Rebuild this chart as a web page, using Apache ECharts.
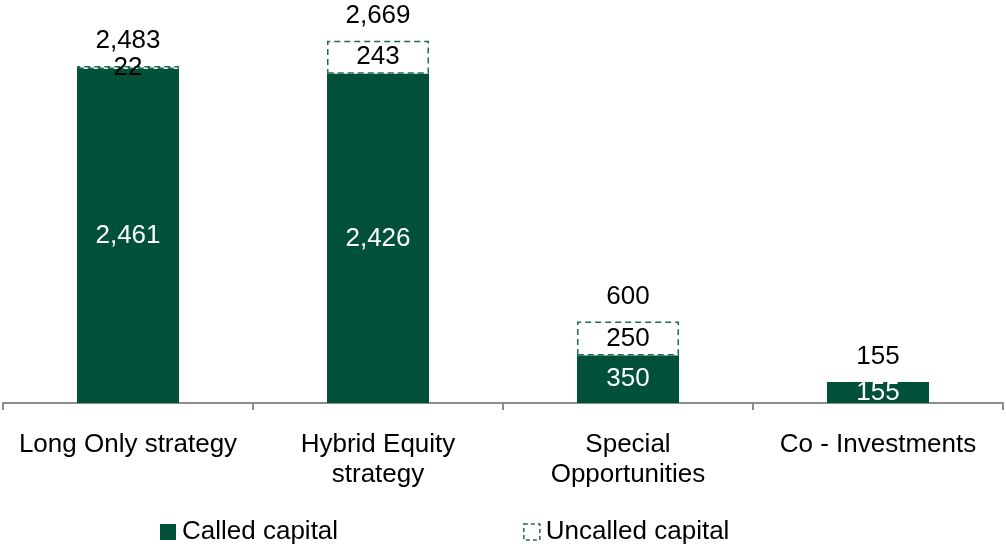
<!DOCTYPE html>
<html>
<head>
<meta charset="utf-8">
<script src="https://cdn.jsdelivr.net/npm/echarts@6/dist/echarts.min.js"></script>
<style>
html,body{margin:0;padding:0;background:#fff;}
#chart{width:1006px;height:546px;}
</style>
</head>
<body>
<div id="chart"></div>
<script>
const categories = ['Long Only strategy', 'Hybrid Equity\nstrategy', 'Special\nOpportunities', 'Co - Investments'];
const called = [2461, 2426, 350, 155];
const uncalled = [22, 243, 250, 0];
const totals = [2483, 2669, 600, 155];

const FONT = "'Liberation Sans', Arial, Helvetica, sans-serif";
const GREEN = '#00503a';
const FS = 26;
const fmt = v => v.toLocaleString('en-US');

const chart = echarts.init(document.getElementById('chart'));
chart.setOption({
  animation: false,
  textStyle: { fontFamily: FONT },
  grid: { left: 3, right: 3, top: 23, bottom: 143 },
  legend: {
    data: [
      { name: 'Called capital', icon: 'rect' },
      { name: 'Uncalled capital', icon: 'rect', itemStyle: { color: '#fff', borderColor: '#1f6b50', borderWidth: 1.5, borderType: [4, 3] } }
    ],
    left: 155,
    top: 514,
    itemWidth: 16,
    itemHeight: 16,
    itemGap: 185,
    textStyle: { fontSize: FS, color: '#000', fontFamily: FONT, padding: [0, 0, 0, 1] }
  },
  xAxis: {
    type: 'category',
    data: categories,
    axisLine: { lineStyle: { color: '#8c8c8c', width: 2 } },
    axisTick: { show: true, length: 7, lineStyle: { color: '#8c8c8c', width: 2 } },
    axisLabel: { color: '#000', fontSize: FS, lineHeight: 30, margin: 27, fontFamily: FONT, interval: 0 }
  },
  yAxis: {
    type: 'value', min: 0, max: 2800, show: false,
    splitLine: { show: false }
  },
  series: [
    {
      name: 'Called capital', type: 'bar', stack: 'a', barWidth: 102, barGap: '-100%',
      data: called,
      itemStyle: { color: GREEN },
      label: { show: true, position: 'inside', color: '#fff', fontSize: FS, fontFamily: FONT,
               formatter: p => fmt(p.value) }
    },
    {
      name: 'Uncalled capital', type: 'bar', stack: 'a', barWidth: 102,
      data: uncalled.map(v => v === 0 ? '-' : v),
      itemStyle: { color: '#fff', borderColor: '#1f6b50', borderWidth: 1.5, borderType: [6, 4] },
      label: { show: true, position: 'inside', color: '#000', fontSize: FS, fontFamily: FONT,
               formatter: p => fmt(p.value) }
    },
    {
      name: 'Total', type: 'bar', barWidth: 102, barGap: '-100%', z: 1,
      data: totals,
      itemStyle: { color: 'rgba(0,0,0,0)' },
      label: { show: true, position: 'top', distance: 12, color: '#000', fontSize: FS, fontFamily: FONT,
               formatter: p => fmt(p.value) },
      tooltip: { show: false }
    }
  ]
});
</script>
</body>
</html>
